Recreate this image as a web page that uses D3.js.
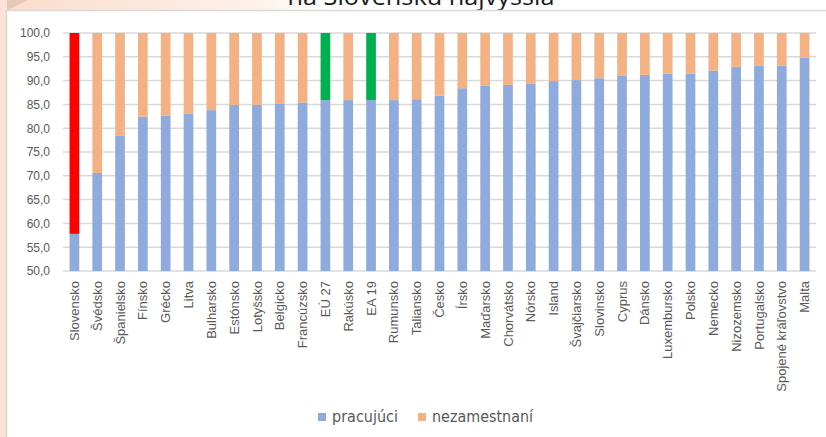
<!DOCTYPE html>
<html>
<head>
<meta charset="utf-8">
<script src="https://cdn.jsdelivr.net/npm/d3@7"></script>
<style>
  html, body { margin: 0; padding: 0; background: #fff; overflow: hidden; }
  svg { display: block; }
</style>
</head>
<body>
<div id="chart"></div>
<script>
// Categories in the order shown (sorted by share of employed).
const countries = ['Slovensko', 'Švédsko', 'Španielsko', 'Fínsko', 'Grécko', 'Litva', 'Bulharsko',
  'Estónsko', 'Lotyšsko', 'Belgicko', 'Francúzsko', 'EÚ 27', 'Rakúsko', 'EA 19', 'Rumunsko',
  'Taliansko', 'Česko', 'Írsko', 'Maďarsko', 'Chorvátsko', 'Nórsko', 'Island', 'Švajčiarsko',
  'Slovinsko', 'Cyprus', 'Dánsko', 'Luxembursko', 'Polsko', 'Nemecko', 'Nizozemsko',
  'Portugalsko', 'Spojené kráľovstvo', 'Malta'];

// pracujúci (%); nezamestnaní is the rest up to 100.
const employed = [57.8, 70.6, 78.4, 82.4, 82.6, 83.1, 83.8, 84.9, 84.9, 85.1, 85.4, 85.9, 85.9,
  85.9, 85.9, 86.1, 86.8, 88.4, 88.9, 89.1, 89.3, 89.9, 90.1, 90.5, 91.0, 91.2, 91.5, 91.5,
  92.1, 92.9, 93.1, 93.1, 94.8];
const unemployed = employed.map(v => +(100 - v).toFixed(1));

const seriesNames = ['pracujúci', 'nezamestnaní'];
const yTicks = [50, 55, 60, 65, 70, 75, 80, 85, 90, 95, 100];
const titleText = 'na Slovensku najvyššia';

// highlighted bars: Slovakia red, EU averages green
const highlight = { 'Slovensko': '#ff0000', 'EÚ 27': '#00b050', 'EA 19': '#00b050' };

const W = 826, H = 437;
const colors = { 'pracujúci': '#8faadc', 'nezamestnaní': '#f4b183' };
const textGray = '#595959';
const gridGray = '#d9d9d9';

const svg = d3.select('#chart').append('svg')
  .attr('width', W).attr('height', H);

// slide background behind the chart box
const defs = svg.append('defs');
const bg = defs.append('linearGradient').attr('id', 'bg').attr('x1', 0).attr('x2', 1).attr('y1', 0).attr('y2', 0);
bg.append('stop').attr('offset', 0).attr('stop-color', '#fbdccb');
bg.append('stop').attr('offset', 0.3).attr('stop-color', '#fdf0e9');
bg.append('stop').attr('offset', 0.4).attr('stop-color', '#ffffff');
svg.append('rect').attr('width', W).attr('height', H).attr('fill', 'url(#bg)');
svg.append('path').attr('d', 'M0,0 L28,0 L0,14 Z').attr('fill', '#e3cabb');
svg.append('rect').attr('x', 0).attr('y', 0).attr('width', 7).attr('height', H).attr('fill', '#fde3d5');

// title, cut by the top of the crop as in the source
svg.append('text')
  .attr('x', 421).attr('y', 5)
  .attr('text-anchor', 'middle')
  .attr('font-family', 'Open Sans, Noto Sans, sans-serif')
  .attr('font-size', 24)
  .attr('fill', '#1a1a1a')
  .attr('textLength', 267).attr('lengthAdjust', 'spacingAndGlyphs')
  .text(titleText);

// chart box
svg.append('rect')
  .attr('x', 6.5).attr('y', 10.5)
  .attr('width', W + 10).attr('height', H + 10)
  .attr('fill', '#fff')
  .attr('stroke', gridGray).attr('stroke-width', 1.5);

const x = d3.scaleBand().domain(countries).range([63, 816]).paddingInner(0.575).paddingOuter(0.2875);
const y = d3.scaleLinear().domain([50, 100]).range([271, 33]);

// gridlines
svg.append('g')
  .selectAll('line')
  .data(yTicks)
  .join('line')
  .attr('x1', 63).attr('x2', 816)
  .attr('y1', d => y(d)).attr('y2', d => y(d))
  .attr('stroke', gridGray).attr('stroke-width', 1.5);

// y axis labels
const yAxis = svg.append('g')
  .attr('transform', 'translate(56,0)')
  .call(d3.axisLeft(y).tickValues(yTicks).tickSize(0).tickPadding(6)
    .tickFormat(d => d3.format('.1f')(d).replace('.', ',')));
yAxis.select('.domain').remove();
yAxis.selectAll('text')
  .attr('font-family', 'Liberation Sans, Arial, sans-serif')
  .attr('font-size', 12).attr('fill', textGray);

// stacked bars
const rows = countries.map((c, i) => ({ country: c, 'pracujúci': employed[i], 'nezamestnaní': unemployed[i] }));
const stack = d3.stack().keys(seriesNames)(rows);

svg.append('g')
  .selectAll('g')
  .data(stack)
  .join('g')
  .selectAll('rect')
  .data(s => s.map(d => ({ key: s.key, d })))
  .join('rect')
  .attr('x', p => x(p.d.data.country))
  .attr('width', x.bandwidth())
  .attr('y', p => y(Math.min(100, p.d[1])))
  .attr('height', p => y(Math.max(50, p.d[0])) - y(Math.min(100, p.d[1])))
  .attr('fill', p => (p.key === 'nezamestnaní' && highlight[p.d.data.country]) || colors[p.key]);

// x axis labels, rotated
const xAxis = svg.append('g')
  .attr('transform', 'translate(0,271)')
  .call(d3.axisBottom(x).tickSize(0).tickPadding(0));
xAxis.select('.domain').remove();
xAxis.selectAll('text')
  .attr('font-family', 'Liberation Sans, Arial, sans-serif')
  .attr('font-size', 13).attr('fill', textGray)
  .attr('text-anchor', 'end')
  .attr('transform', 'rotate(-90)')
  .attr('x', -10).attr('y', 0).attr('dy', '0.35em');

// legend
const legendItems = [
  { name: seriesNames[0], sx: 318, tx: 332, len: 66 },
  { name: seriesNames[1], sx: 418, tx: 432, len: 101 }
];
const legend = svg.append('g');
legend.selectAll('rect')
  .data(legendItems)
  .join('rect')
  .attr('x', d => d.sx).attr('y', 413)
  .attr('width', 8).attr('height', 8)
  .attr('fill', d => colors[d.name]);
legend.selectAll('text')
  .data(legendItems)
  .join('text')
  .attr('x', d => d.tx).attr('y', 422)
  .attr('font-family', 'Liberation Sans Narrow, DejaVu Sans Condensed, sans-serif')
  .attr('font-size', 15).attr('fill', textGray)
  .attr('textLength', d => d.len).attr('lengthAdjust', 'spacingAndGlyphs')
  .text(d => d.name);
</script>
</body>
</html>
